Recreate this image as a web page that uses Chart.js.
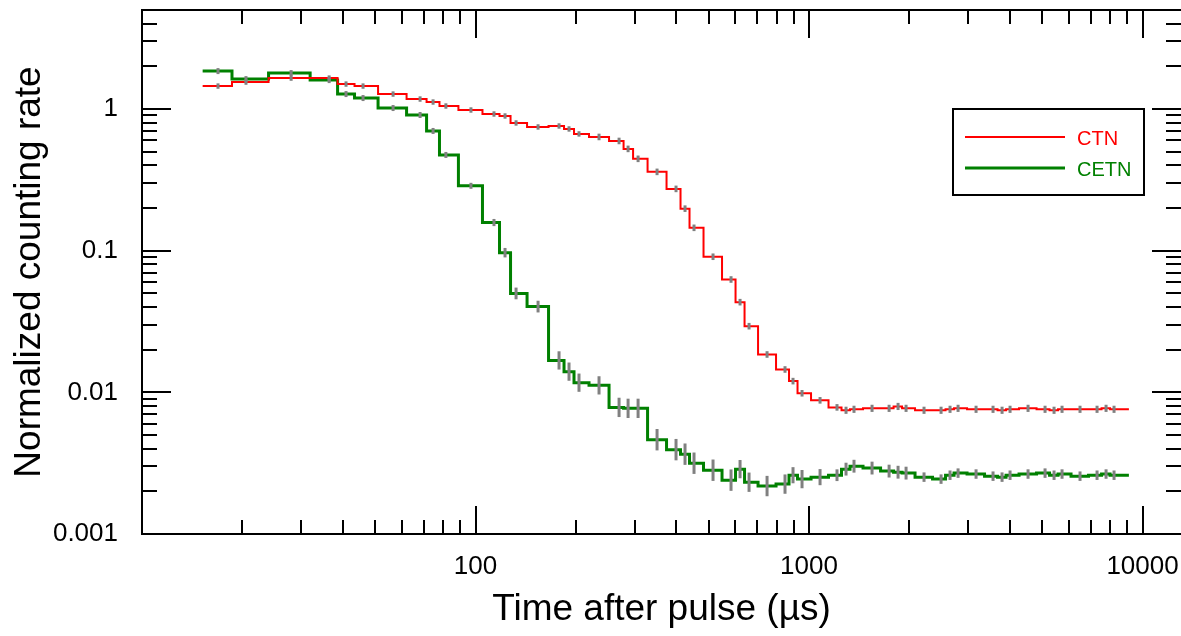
<!DOCTYPE html>
<html>
<head>
<meta charset="utf-8">
<script src="https://cdn.jsdelivr.net/npm/chart.js@4.4.1/dist/chart.umd.min.js"></script>
<style>
  html, body { margin: 0; padding: 0; background: #fff; }
</style>
</head>
<body>
<canvas id="decayChart" width="1181" height="636"></canvas>
<script>
// time after pulse (µs) at the centre of each counting bin
var times = [16.9, 20.5, 28.0, 36.4, 40.9, 46.0, 56.6, 68.2, 74.6, 81.5,
    96.9, 113.6, 122.6, 132.3, 154.0, 178.0, 190.7, 204.3, 234.6, 269.4,
    286.7, 307.2, 350.2, 399.2, 424.8, 452.0, 515.4, 583.6, 621.1, 660.9,
    748.4, 847.2, 895.3, 952.8, 1079, 1213, 1291, 1364, 1545, 1738,
    1849, 1954, 2212, 2488, 2647, 2798, 3168, 3562, 3791, 4006,
    4536, 5101, 5428, 5736, 6494, 7304, 7773, 8213];
// span covered by the first and last bins
var traceStart = 15.2;
var traceEnd = 9100;

var ctnRate = [1.452, 1.549, 1.653, 1.653, 1.500, 1.452, 1.275, 1.176, 1.120, 1.050,
    0.984, 0.922, 0.893, 0.797, 0.747, 0.759, 0.723, 0.667, 0.635, 0.595,
    0.523, 0.445, 0.360, 0.273, 0.198, 0.145, 0.0906, 0.0626, 0.0433, 0.0293,
    0.0185, 0.0145, 0.0120, 0.00985, 0.00878, 0.00783, 0.00747, 0.00759, 0.00771, 0.00771,
    0.00795, 0.00771, 0.00747, 0.00747, 0.00759, 0.00771, 0.00759, 0.00759, 0.00747, 0.00759,
    0.00771, 0.00759, 0.00747, 0.00759, 0.00759, 0.00759, 0.00771, 0.00759];
var ctnErr = [0.045, 0.045, 0.045, 0.045, 0.045, 0.045, 0.045, 0.045, 0.045, 0.045,
    0.045, 0.045, 0.045, 0.045, 0.045, 0.045, 0.045, 0.045, 0.055, 0.055,
    0.055, 0.055, 0.055, 0.055, 0.055, 0.055, 0.055, 0.055, 0.055, 0.055,
    0.055, 0.055, 0.055, 0.055, 0.055, 0.055, 0.06, 0.06, 0.06, 0.06,
    0.06, 0.06, 0.06, 0.06, 0.06, 0.06, 0.06, 0.06, 0.06, 0.06,
    0.06, 0.06, 0.06, 0.06, 0.06, 0.06, 0.06, 0.06];

var cetnRate = [1.852, 1.626, 1.793, 1.600, 1.275, 1.195, 1.016, 0.907, 0.700, 0.474,
    0.287, 0.158, 0.0968, 0.0499, 0.0403, 0.0168, 0.0140, 0.0117, 0.0112, 0.00783,
    0.00771, 0.00771, 0.00463, 0.00394, 0.00366, 0.00316, 0.00282, 0.00240, 0.00287, 0.00232,
    0.00218, 0.00225, 0.00260, 0.00244, 0.00252, 0.00260, 0.00287, 0.00301, 0.00292, 0.00278,
    0.00273, 0.00269, 0.00252, 0.00244, 0.00260, 0.00269, 0.00265, 0.00256, 0.00252, 0.00260,
    0.00265, 0.00269, 0.00260, 0.00265, 0.00256, 0.00260, 0.00265, 0.00260];
var cetnErr = [0.05, 0.05, 0.05, 0.05, 0.05, 0.05, 0.05, 0.05, 0.05, 0.05,
    0.05, 0.06, 0.08, 0.10, 0.10, 0.16, 0.16, 0.16, 0.16, 0.17,
    0.17, 0.17, 0.19, 0.19, 0.19, 0.19, 0.19, 0.19, 0.16, 0.17,
    0.18, 0.17, 0.14, 0.16, 0.14, 0.10, 0.11, 0.11, 0.11, 0.11,
    0.11, 0.11, 0.08, 0.08, 0.08, 0.08, 0.08, 0.08, 0.08, 0.08,
    0.08, 0.08, 0.08, 0.08, 0.08, 0.08, 0.08, 0.08];

var FONT = '"Liberation Sans", Arial, Helvetica, sans-serif';

function stepData(vals) {
    var pts = times.map(function (t, i) { return { x: t, y: vals[i] }; });
    pts.unshift({ x: traceStart, y: vals[0] });
    pts.push({ x: traceEnd, y: vals[vals.length - 1] });
    return pts;
}

function isDecade(v) {
    var l = Math.log10(v);
    return Math.abs(l - Math.round(l)) < 1e-6;
}

function logTicks(min, max) {
    var out = [];
    for (var p = Math.floor(Math.log10(min)); p <= Math.ceil(Math.log10(max)); p++) {
        for (var m = 1; m <= 9; m++) {
            var v = m * Math.pow(10, p);
            if (v >= min * 0.999 && v <= max * 1.001) out.push({ v: v, major: m === 1 });
        }
    }
    return out;
}

// error bars, frame with inward ticks on all four sides
var errorBarsAndFrame = {
    id: 'errorBarsAndFrame',
    afterDatasetsDraw: function (chart) {
        var ctx = chart.ctx, a = chart.chartArea;
        var xs = chart.scales.x, ys = chart.scales.y;

        ctx.save();
        ctx.beginPath();
        ctx.rect(a.left, a.top, a.right - a.left, a.bottom - a.top);
        ctx.clip();
        ctx.strokeStyle = 'rgb(128,128,128)';
        ctx.lineWidth = 3;
        [[ctnRate, ctnErr], [cetnRate, cetnErr]].forEach(function (s) {
            times.forEach(function (t, i) {
                var x = xs.getPixelForValue(t);
                ctx.beginPath();
                ctx.moveTo(x, ys.getPixelForValue(s[0][i] * (1 + s[1][i])));
                ctx.lineTo(x, ys.getPixelForValue(s[0][i] / (1 + s[1][i])));
                ctx.stroke();
            });
        });
        ctx.restore();

        ctx.save();
        ctx.strokeStyle = '#000';
        ctx.lineWidth = 2;
        ctx.beginPath();
        ctx.moveTo(a.left, a.top);
        ctx.lineTo(a.left, a.bottom);
        ctx.moveTo(a.left - 1, a.bottom);
        ctx.lineTo(a.right, a.bottom);
        ctx.moveTo(a.left - 1, a.top);
        ctx.lineTo(a.right, a.top);

        logTicks(xs.min, xs.max).forEach(function (tk) {
            var x = Math.round(xs.getPixelForValue(tk.v));
            var len = tk.major ? 28 : 14;
            ctx.moveTo(x, a.bottom);
            ctx.lineTo(x, a.bottom - len);
            ctx.moveTo(x, a.top);
            ctx.lineTo(x, a.top + len);
        });
        logTicks(ys.min, ys.max).forEach(function (tk) {
            var y = Math.round(ys.getPixelForValue(tk.v));
            var len = tk.major ? 29 : 15;
            ctx.moveTo(a.left, y);
            ctx.lineTo(a.left + len, y);
            ctx.moveTo(a.right, y);
            ctx.lineTo(a.right - len, y);
        });
        ctx.stroke();
        ctx.restore();
    },
    afterDraw: function (chart) {
        var ctx = chart.ctx;
        var box = { x: 953, y: 109, w: 191, h: 86 };
        ctx.save();
        ctx.fillStyle = '#fff';
        ctx.fillRect(box.x, box.y, box.w, box.h);
        ctx.strokeStyle = '#000';
        ctx.lineWidth = 2;
        ctx.strokeRect(box.x, box.y, box.w, box.h);
        ctx.font = '20px ' + FONT;
        ctx.textBaseline = 'middle';
        ctx.textAlign = 'left';
        chart.data.datasets.forEach(function (ds, i) {
            var y = box.y + 28 + i * 31;
            ctx.strokeStyle = ds.borderColor;
            ctx.lineWidth = ds.borderWidth;
            ctx.beginPath();
            ctx.moveTo(box.x + 12, y);
            ctx.lineTo(box.x + 112, y);
            ctx.stroke();
            ctx.fillStyle = ds.borderColor;
            ctx.fillText(ds.label, box.x + 124, y + 2);
        });
        ctx.restore();
    }
};

var canvas = document.getElementById('decayChart');

var decayChart = new Chart(canvas, {
    type: 'line',
    data: {
        datasets: [{
            label: 'CTN',
            data: stepData(ctnRate),
            borderColor: '#ff0000',
            borderWidth: 2,
            stepped: 'middle',
            pointRadius: 0,
            fill: false
        }, {
            label: 'CETN',
            data: stepData(cetnRate),
            borderColor: '#008000',
            borderWidth: 3,
            stepped: 'middle',
            pointRadius: 0,
            fill: false
        }]
    },
    options: {
        responsive: false,
        animation: false,
        layout: { padding: { top: 10, right: 0, left: 0, bottom: 0 } },
        plugins: {
            legend: { display: false },
            tooltip: { enabled: false }
        },
        scales: {
            x: {
                type: 'logarithmic',
                min: 10,
                max: 13040,
                grid: { display: false, drawTicks: false },
                border: { display: false },
                afterFit: function (scale) {
                    scale.height = 102;
                    scale.paddingLeft = 0;
                    scale.paddingRight = 0;
                },
                ticks: {
                    autoSkip: false,
                    maxRotation: 0,
                    padding: 17,
                    color: '#000',
                    font: { family: FONT, size: 26 },
                    callback: function (v) {
                        return (isDecade(v) && v >= 100) ? String(v) : '';
                    }
                },
                title: {
                    display: true,
                    text: 'Time after pulse (µs)',
                    color: '#000',
                    font: { family: FONT, size: 37, lineHeight: 1 },
                    padding: { top: 0, bottom: 8 }
                }
            },
            y: {
                type: 'logarithmic',
                min: 0.001,
                max: 5,
                grid: { display: false, drawTicks: false },
                border: { display: false },
                afterFit: function (scale) {
                    scale.width = 142;
                    scale.paddingTop = 0;
                    scale.paddingBottom = 0;
                },
                ticks: {
                    autoSkip: false,
                    padding: 24,
                    color: '#000',
                    font: { family: FONT, size: 26 },
                    callback: function (v) {
                        return isDecade(v) ? String(v) : '';
                    }
                },
                title: {
                    display: true,
                    text: 'Normalized counting rate',
                    color: '#000',
                    font: { family: FONT, size: 37, lineHeight: 1 },
                    padding: { top: 11, bottom: 0 }
                }
            }
        }
    },
    plugins: [errorBarsAndFrame]
});
</script>
</body>
</html>
